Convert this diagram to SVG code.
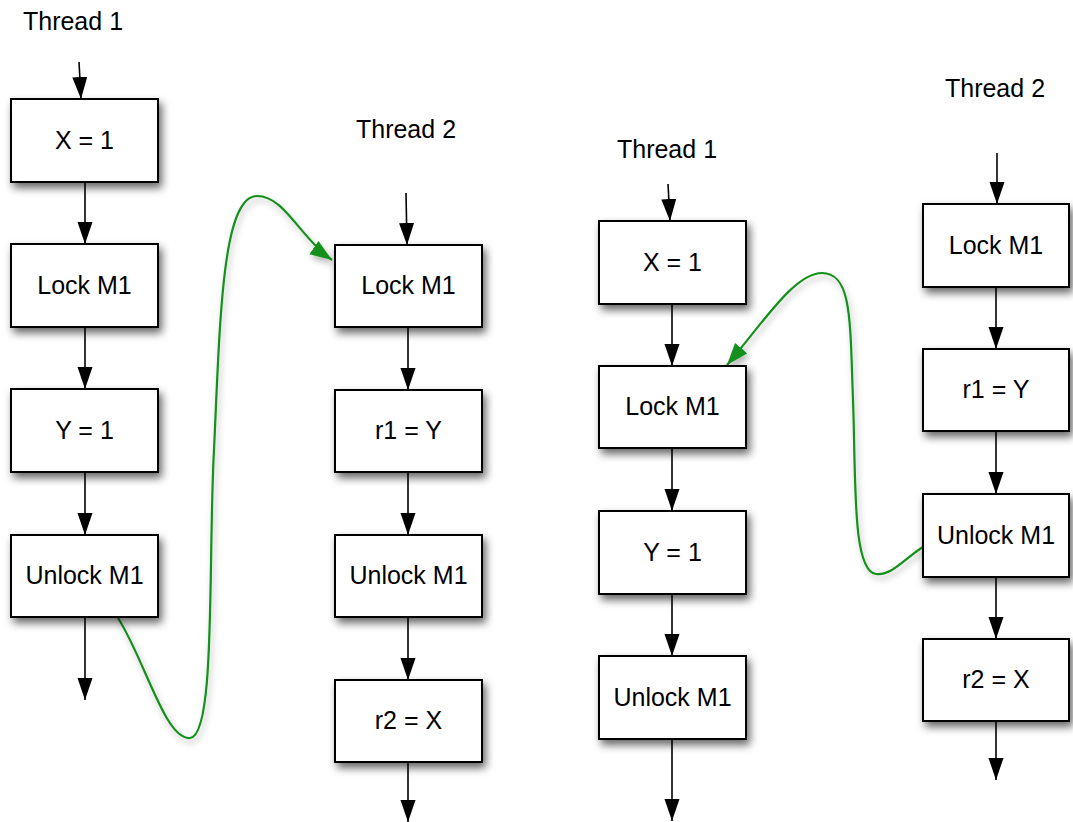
<svg xmlns="http://www.w3.org/2000/svg" width="1073" height="822" viewBox="0 0 1073 822">
<style>
.box{fill:#fff;stroke:#000;stroke-width:2}
.t{font-family:"Liberation Sans",Arial,sans-serif;font-size:25px;fill:#000;text-anchor:middle}
.c{stroke:#000;stroke-width:1.6;fill:none}
.g{stroke:#14901a;stroke-width:2.2;fill:none}
</style>
<defs>
<filter id="sh" x="-20%" y="-20%" width="150%" height="160%">
<feDropShadow dx="3" dy="5" stdDeviation="4" flood-color="#000" flood-opacity="0.6"/>
</filter>
<filter id="gsh" x="-20%" y="-20%" width="150%" height="150%">
<feDropShadow dx="2" dy="4" stdDeviation="3" flood-color="#000" flood-opacity="0.3"/>
</filter>
<marker id="ah" markerUnits="userSpaceOnUse" markerWidth="24" markerHeight="17" refX="22" refY="7.5" orient="auto">
<path d="M0,0 L22,7.5 L0,15 z" fill="#000"/>
</marker>
<marker id="gah" markerUnits="userSpaceOnUse" markerWidth="24" markerHeight="18" refX="22" refY="8" orient="auto">
<path d="M0,0 L22,8 L0,16 z" fill="#14901a"/>
</marker>
</defs>
<text class="t" x="73" y="30">Thread 1</text>
<text class="t" x="406" y="138">Thread 2</text>
<text class="t" x="667" y="158">Thread 1</text>
<text class="t" x="995" y="97">Thread 2</text>
<g id="connectors">
<line class="c" x1="79" y1="62" x2="81" y2="99" marker-end="url(#ah)"/>
<line class="c" x1="85" y1="182" x2="85" y2="244" marker-end="url(#ah)"/>
<line class="c" x1="85" y1="327" x2="85" y2="389" marker-end="url(#ah)"/>
<line class="c" x1="85" y1="472" x2="85" y2="535" marker-end="url(#ah)"/>
<line class="c" x1="85" y1="617" x2="85" y2="700" marker-end="url(#ah)"/>
<line class="c" x1="406" y1="193" x2="407" y2="245" marker-end="url(#ah)"/>
<line class="c" x1="408" y1="327" x2="408" y2="390" marker-end="url(#ah)"/>
<line class="c" x1="408" y1="472" x2="408" y2="535" marker-end="url(#ah)"/>
<line class="c" x1="408" y1="617" x2="408" y2="680" marker-end="url(#ah)"/>
<line class="c" x1="408" y1="762" x2="408" y2="822" marker-end="url(#ah)"/>
<line class="c" x1="668" y1="184" x2="670" y2="221" marker-end="url(#ah)"/>
<line class="c" x1="672" y1="304" x2="672" y2="366" marker-end="url(#ah)"/>
<line class="c" x1="672" y1="448" x2="672" y2="511" marker-end="url(#ah)"/>
<line class="c" x1="672" y1="594" x2="672" y2="656" marker-end="url(#ah)"/>
<line class="c" x1="672" y1="739" x2="672" y2="821" marker-end="url(#ah)"/>
<line class="c" x1="997" y1="153" x2="997" y2="204" marker-end="url(#ah)"/>
<line class="c" x1="996" y1="287" x2="996" y2="349" marker-end="url(#ah)"/>
<line class="c" x1="996" y1="431" x2="996" y2="494" marker-end="url(#ah)"/>
<line class="c" x1="996" y1="577" x2="996" y2="639" marker-end="url(#ah)"/>
<line class="c" x1="996" y1="721" x2="996" y2="780" marker-end="url(#ah)"/>
<path class="g" filter="url(#gsh)" d="M118,618 C145,660 165,740 190,738 C216,736 208,560 214,450 C220,320 222,196 257,196 C285,196 300,238 332,260" marker-end="url(#gah)"/>
<path class="g" filter="url(#gsh)" d="M923,547 C905,558 892,576 876,574 C852,571 856,480 853,400 C850,320 852,273 822,273 C795,273 765,320 727,365" marker-end="url(#gah)"/>
</g>
<g id="n1"><rect class="box" filter="url(#sh)" x="11" y="99" width="147" height="83"/><text class="t" x="84.5" y="149">X = 1</text></g>
<g id="n2"><rect class="box" filter="url(#sh)" x="11" y="244" width="147" height="83"/><text class="t" x="84.5" y="294">Lock M1</text></g>
<g id="n3"><rect class="box" filter="url(#sh)" x="11" y="389" width="147" height="83"/><text class="t" x="84.5" y="439">Y = 1</text></g>
<g id="n4"><rect class="box" filter="url(#sh)" x="11" y="535" width="147" height="82"/><text class="t" x="84.5" y="584">Unlock M1</text></g>
<g id="n5"><rect class="box" filter="url(#sh)" x="335" y="245" width="147" height="82"/><text class="t" x="408.5" y="294">Lock M1</text></g>
<g id="n6"><rect class="box" filter="url(#sh)" x="335" y="390" width="147" height="82"/><text class="t" x="408.5" y="439">r1 = Y</text></g>
<g id="n7"><rect class="box" filter="url(#sh)" x="335" y="535" width="147" height="82"/><text class="t" x="408.5" y="584">Unlock M1</text></g>
<g id="n8"><rect class="box" filter="url(#sh)" x="335" y="680" width="147" height="82"/><text class="t" x="408.5" y="729">r2 = X</text></g>
<g id="n9"><rect class="box" filter="url(#sh)" x="599" y="221" width="147" height="83"/><text class="t" x="672.5" y="271">X = 1</text></g>
<g id="n10"><rect class="box" filter="url(#sh)" x="599" y="366" width="147" height="82"/><text class="t" x="672.5" y="415">Lock M1</text></g>
<g id="n11"><rect class="box" filter="url(#sh)" x="599" y="511" width="147" height="83"/><text class="t" x="672.5" y="561">Y = 1</text></g>
<g id="n12"><rect class="box" filter="url(#sh)" x="599" y="656" width="147" height="83"/><text class="t" x="672.5" y="706">Unlock M1</text></g>
<g id="n13"><rect class="box" filter="url(#sh)" x="923" y="204" width="146" height="83"/><text class="t" x="996" y="254">Lock M1</text></g>
<g id="n14"><rect class="box" filter="url(#sh)" x="923" y="349" width="146" height="82"/><text class="t" x="996" y="398">r1 = Y</text></g>
<g id="n15"><rect class="box" filter="url(#sh)" x="923" y="494" width="146" height="83"/><text class="t" x="996" y="544">Unlock M1</text></g>
<g id="n16"><rect class="box" filter="url(#sh)" x="923" y="639" width="146" height="82"/><text class="t" x="996" y="688">r2 = X</text></g>
</svg>
